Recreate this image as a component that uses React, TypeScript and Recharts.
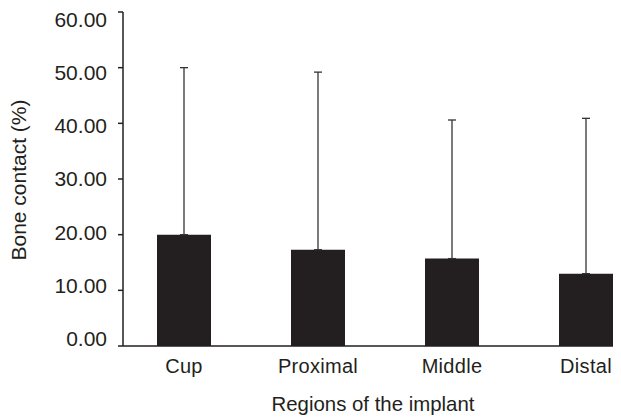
import React from 'react';
import { BarChart, Bar, XAxis, YAxis, ErrorBar } from 'recharts';

const categories = ['Cup', 'Proximal', 'Middle', 'Distal'];
const means = [20.0, 17.3, 15.7, 13.0];
const sds = [30.0, 31.9, 24.9, 27.9];
const yTicks = [0, 10, 20, 30, 40, 50, 60];

const data = categories.map((c, i) => ({ name: c, value: means[i], err: [0, sds[i]] }));

const FONT = '"Liberation Sans", Arial, Helvetica, sans-serif';
const INK = '#231f20';

const YTick = (props: any) => {
  const { x, y, payload } = props;
  const v = Number(payload.value);
  const shift = ((v - 30) / 30) * 7.8;
  return (
    <text x={x} y={y + shift} dy="0.355em" textAnchor="end" fontFamily={FONT} fontSize={21} fill={INK}>
      {v.toFixed(2)}
    </text>
  );
};

const YLabel = (props: any) => {
  const vb = props.viewBox || {};
  const cx = 10;
  const cy = vb.y + vb.height / 2 + 1;
  return (
    <text x={cx} y={cy} transform={`rotate(-90, ${cx}, ${cy})`} textAnchor="middle" dominantBaseline="central"
      fontFamily={FONT} fontSize={21} fill={INK}>
      Bone contact (%)
    </text>
  );
};

const XLabel = () => (
  <text x={365} y={403} textAnchor="middle" fontFamily={FONT} fontSize={20.4} fill={INK}>
    Regions of the implant
  </text>
);

export default function App() {
  return (
    <div style={{ background: '#fff' }}>
      <style>{'.recharts-surface{overflow:visible}'}</style>
      <BarChart width={605} height={410} data={data} margin={{ top: 4, right: 0, bottom: 0, left: 0 }}>
        <XAxis dataKey="name" height={72} padding={{ left: -6, right: -40 }} axisLine={{ stroke: INK, strokeWidth: 1.5 }}
          tickLine={false} tickSize={0} tickMargin={13}
          tick={{ fill: INK, fontFamily: FONT, fontSize: 20, letterSpacing: 0.3 }}
          label={<XLabel />} />
        <YAxis width={115} domain={[0, 60]} ticks={yTicks} interval={0} type="number"
          axisLine={{ stroke: INK, strokeWidth: 1.5 }} tickLine={{ stroke: INK, strokeWidth: 1.5 }} tickSize={5} tickMargin={11}
          tick={<YTick />}
          label={<YLabel />} />
        <Bar dataKey="value" fill={INK} barSize={54} isAnimationActive={false}>
          <ErrorBar dataKey="err" width={4} stroke="#333" strokeWidth={1.3} isAnimationActive={false} />
        </Bar>
      </BarChart>
    </div>
  );
}
